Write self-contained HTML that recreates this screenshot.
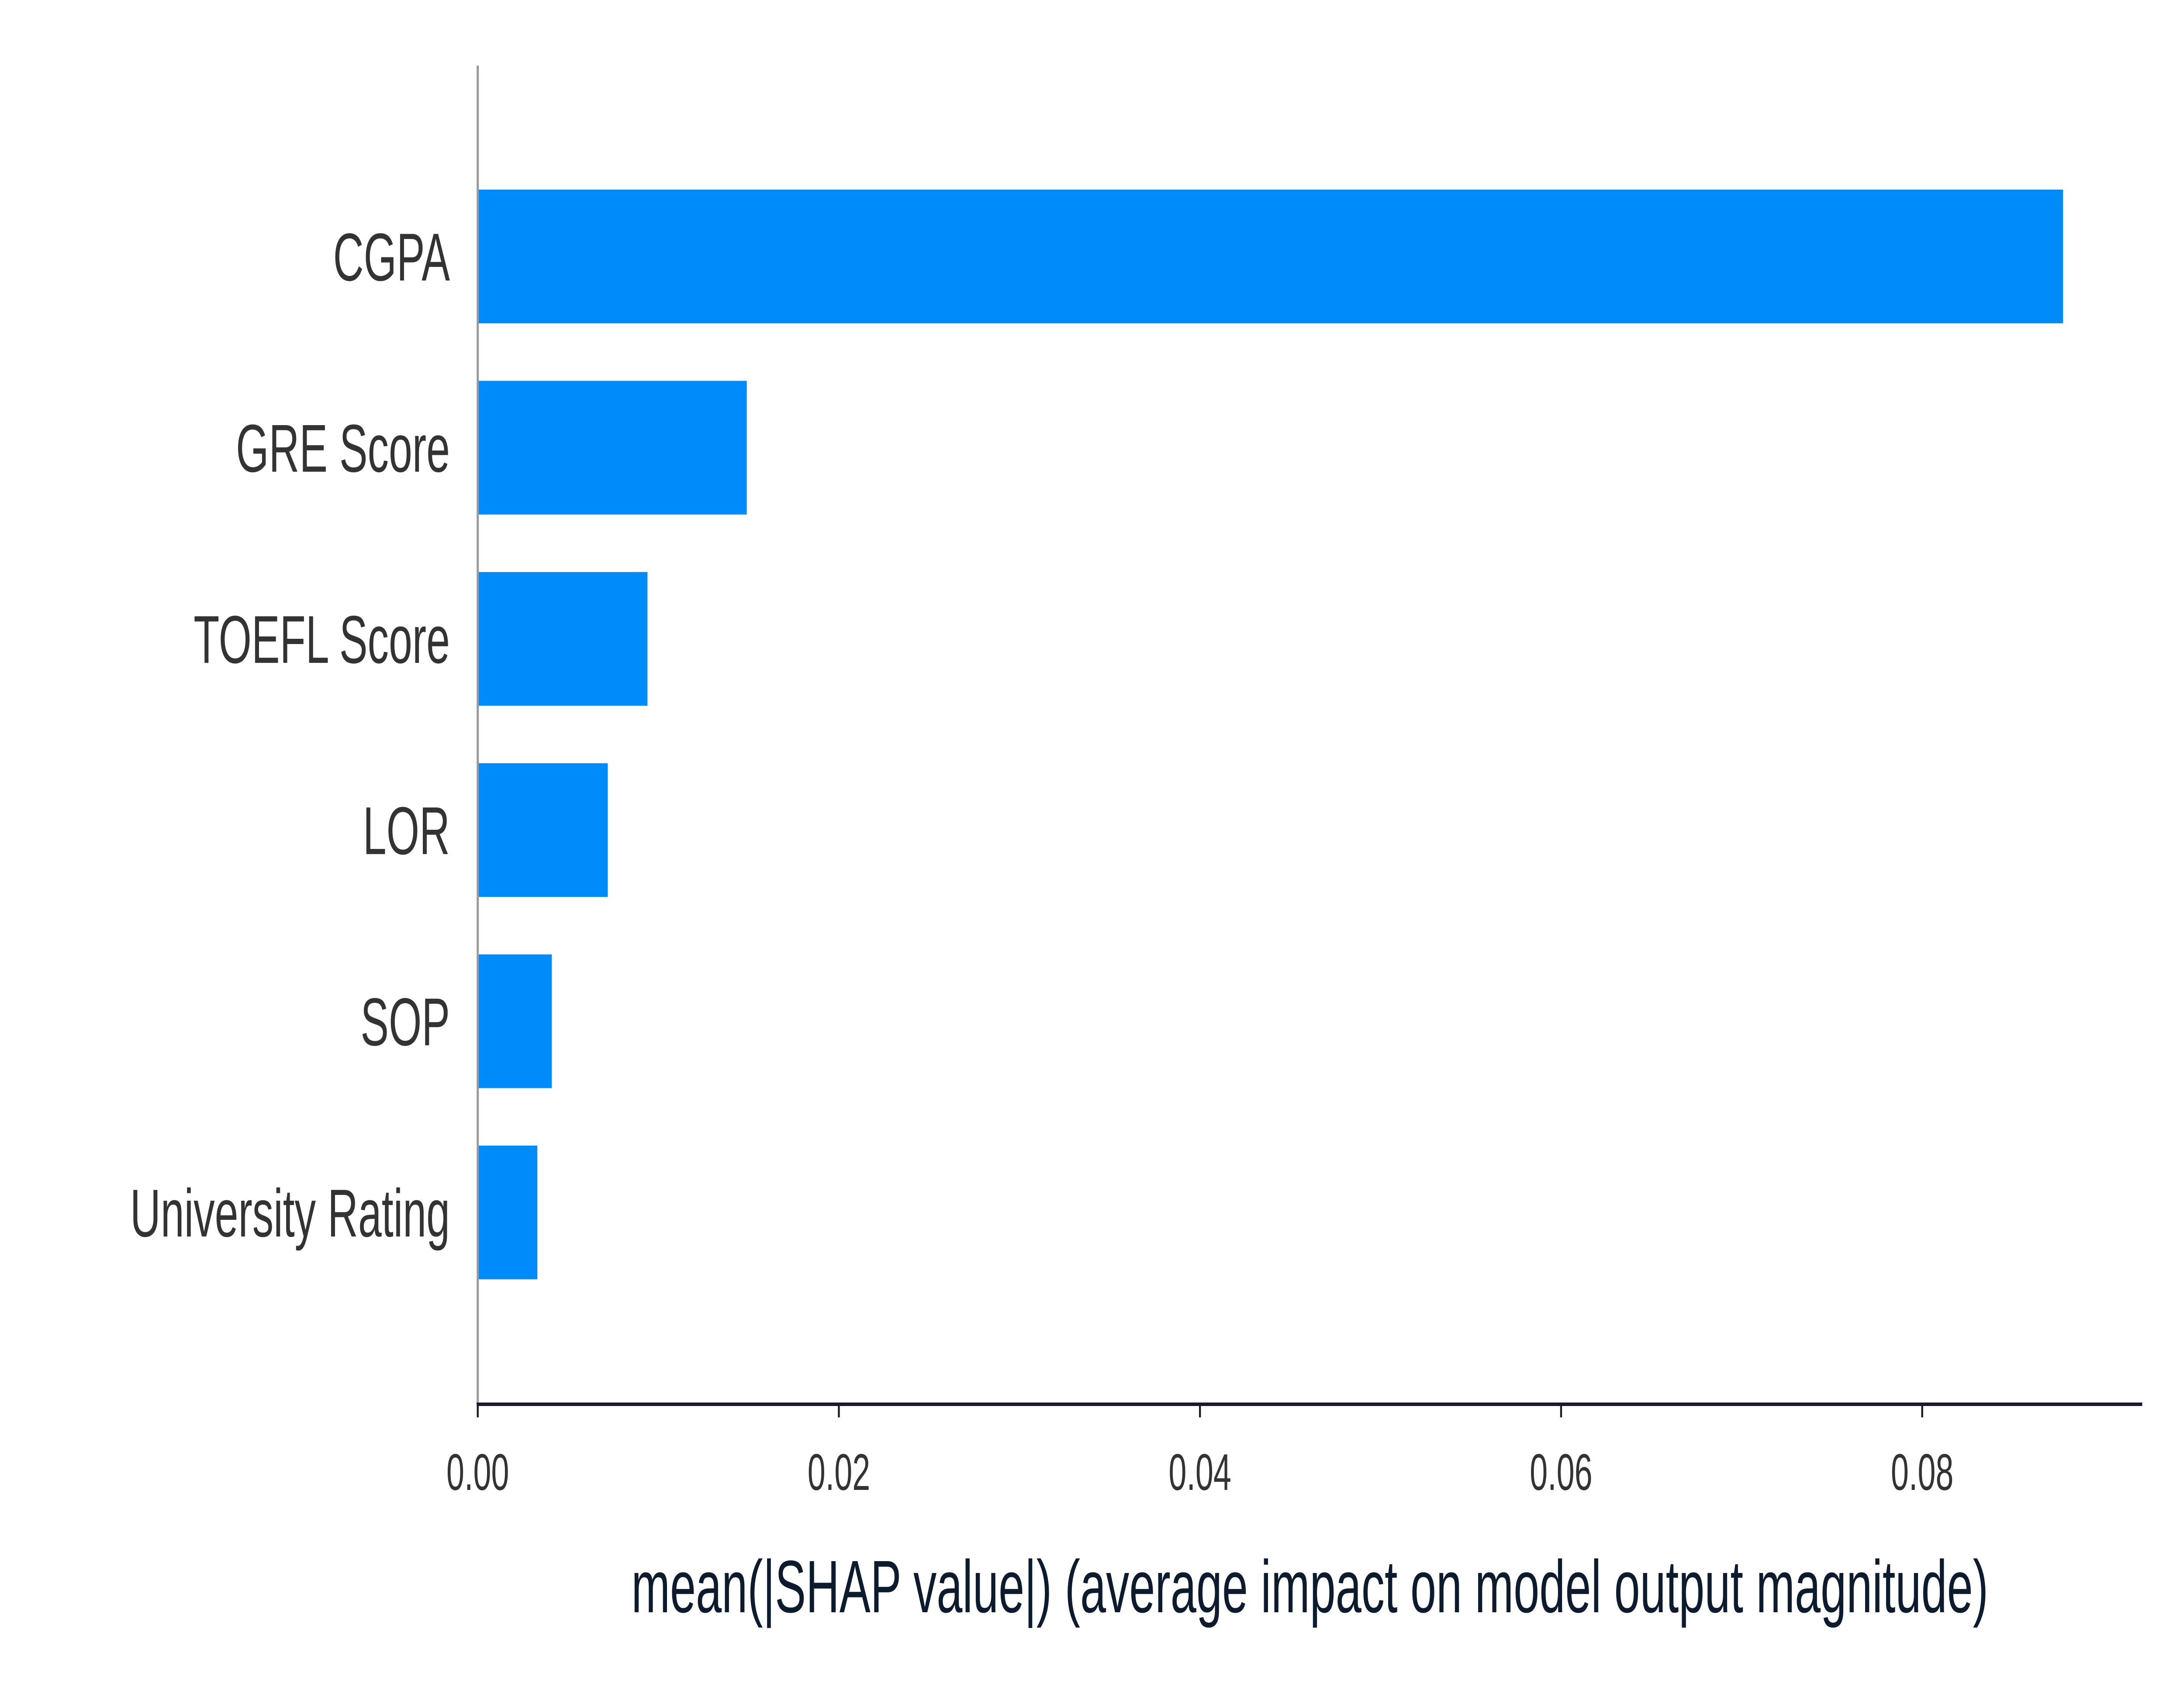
<!DOCTYPE html>
<html><head><meta charset="utf-8"><style>
html,body{margin:0;padding:0;background:#fff;width:100%;height:100%;overflow:hidden;}
svg{display:block;width:100vw;height:100vh;font-family:"Liberation Sans",sans-serif;}
</style></head><body>
<svg id="chart" width="100%" height="100%" viewBox="0 0 8000 3900" preserveAspectRatio="none" xmlns="http://www.w3.org/2000/svg">
<g id="bars"></g>
<g id="axes"></g>
<text x="4798" y="3690" text-anchor="middle" font-size="170" fill="#0d1b2e">mean(|SHAP value|) (average impact on model output magnitude)</text>
</svg>
<script>
const categories = ["CGPA","GRE Score","TOEFL Score","LOR","SOP","University Rating"];
const values = [0.0878,0.0149,0.0094,0.0072,0.0041,0.0033];
const xTicks = [0,0.02,0.04,0.06,0.08];
const xTickLabels = ["0.00","0.02","0.04","0.06","0.08"];

const NS="http://www.w3.org/2000/svg";
const x0=1750, pxPerUnit=(7041-1750)/0.08;
const xs=v=>x0+v*pxPerUnit;
const yTop=587, step=437.6, barH=306;
const yc=i=>yTop+i*step;
function mk(tag,attrs,parent){const e=document.createElementNS(NS,tag);for(const k in attrs)e.setAttribute(k,attrs[k]);parent.appendChild(e);return e;}
const bars=document.getElementById('bars'), axes=document.getElementById('axes');
categories.forEach((c,i)=>{
  const r=mk('rect',{x:x0,y:yc(i)-barH/2,width:xs(values[i])-x0,height:barH,fill:'#008bfb'},bars);
  
  
  const t=mk('text',{x:1648,y:yc(i)+55,'text-anchor':'end','font-size':155,fill:'#333333'},axes);
  t.textContent=c;
  
  
});
const ls=mk('line',{x1:x0,y1:150,x2:x0,y2:3214,stroke:'#999999','stroke-width':8},axes);


const lb=mk('line',{x1:x0-4,y1:3214,x2:7847,y2:3214,stroke:'#1a1a2e','stroke-width':8},axes);


xTicks.forEach((v,i)=>{
  const tk=mk('line',{x1:xs(v),y1:3214,x2:xs(v),y2:3244,stroke:'#1a1a2e','stroke-width':7},axes);
  
  
  const t=mk('text',{x:xs(v),y:3410,'text-anchor':'middle','font-size':118,fill:'#333333'},axes);
  t.textContent=xTickLabels[i];
  
  
});
</script>
</body></html>
